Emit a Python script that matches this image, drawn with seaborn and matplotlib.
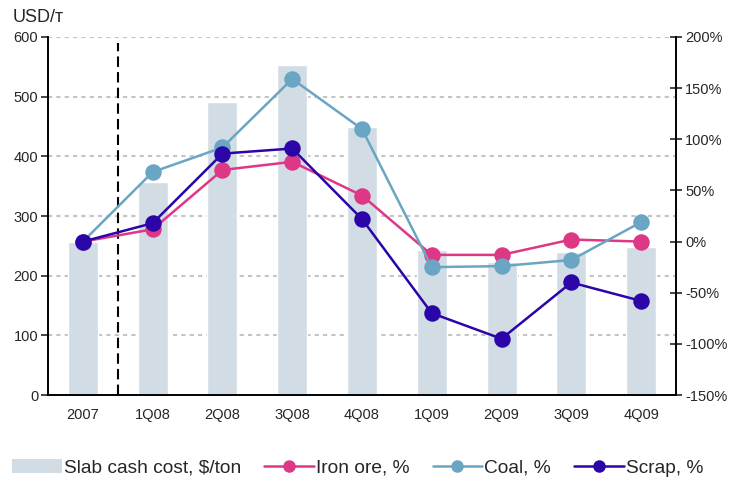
import numpy as np
import pandas as pd
import matplotlib
matplotlib.use("Agg")
import matplotlib.pyplot as plt
import seaborn as sns
from matplotlib.patches import Patch
from matplotlib.lines import Line2D

quarters = ["2007", "1Q08", "2Q08", "3Q08", "4Q08", "1Q09", "2Q09", "3Q09", "4Q09"]
slab_cost = [256, 357, 491, 553, 450, 243, 223, 240, 248]
iron_ore = [0, 12, 70, 78, 45, -13, -13, 2, 0]
coal = [0, 68, 92, 159, 110, -25, -24, -18, 19]
scrap = [0, 18, 86, 91, 22, -70, -95, -40, -58]

BAR_COLOR = "#D1DCE5"
IRON_COLOR = "#DE3785"
COAL_COLOR = "#6AA5C4"
SCRAP_COLOR = "#2B05A8"

sns.set_style("white")
plt.rcParams["font.family"] = ["Liberation Sans", "DejaVu Sans"]

df = pd.DataFrame({
    "quarter": quarters,
    "slab": slab_cost,
    "iron": iron_ore,
    "coal": coal,
    "scrap": scrap,
})

fig = plt.figure(figsize=(7.3, 4.78), dpi=100)
ax = fig.add_axes([0.0658, 0.1736, 0.8602, 0.749])

sns.barplot(data=df, x="quarter", y="slab", color=BAR_COLOR, width=0.43,
            saturation=1, ax=ax, zorder=2)
ax.set_ylim(0, 600)
ax.set_xlim(-0.5, 8.5)
ax.set_yticks(range(0, 601, 100))
ax.yaxis.grid(True, linestyle=(0, (2, 2)), color="#C4C4C4", linewidth=1.5)
ax.set_axisbelow(True)
ax.set_xlabel("")
ax.set_ylabel("")

# dashed separator between 2007 and quarterly data
ax.vlines(0.5, 0, 590, colors="black", linestyles=(0, (5, 2.5)), linewidth=1.5, zorder=3)

ax2 = ax.twinx()
for col, color in [("iron", IRON_COLOR), ("coal", COAL_COLOR), ("scrap", SCRAP_COLOR)]:
    sns.pointplot(data=df, x="quarter", y=col, color=color, markers="o",
                  markersize=10.5, linewidth=1.8, ax=ax2)
ax2.set_ylim(-150, 200)
ax2.set_xlim(-0.5, 8.5)
ax2.set_yticks(range(-150, 201, 50))
ax2.set_yticklabels([f"{v}%" for v in range(-150, 201, 50)])
ax2.set_ylabel("")
ax2.set_xlabel("")
ax2.grid(False)

for a in (ax, ax2):
    a.spines["top"].set_visible(False)
    for s in ("left", "right", "bottom"):
        a.spines[s].set_color("black")
        a.spines[s].set_linewidth(1.2)

ax.tick_params(axis="y", direction="out", length=5, width=1.2, labelsize=10.5, pad=2)
ax2.tick_params(axis="y", direction="inout", length=9, width=1.2, labelsize=10.5, pad=2)
ax.set_xticks(np.arange(-0.5, 9, 1), minor=True)
ax.tick_params(axis="x", which="major", length=0, labelsize=10.5, pad=9)
ax.tick_params(axis="x", which="minor", direction="out", length=5, width=1.2)
ax2.tick_params(axis="x", which="both", length=0)

fig.text(0.017, 0.955, "USD/т", fontsize=13)

handles = [
    Patch(facecolor=BAR_COLOR, edgecolor="none"),
    Line2D([], [], color=IRON_COLOR, marker="o", markersize=8, linewidth=1.8),
    Line2D([], [], color=COAL_COLOR, marker="o", markersize=8, linewidth=1.8),
    Line2D([], [], color=SCRAP_COLOR, marker="o", markersize=8, linewidth=1.8),
]
labels = ["Slab cash cost, $/ton", "Iron ore, %", "Coal, %", "Scrap, %"]
fig.legend(handles, labels, loc="lower center", bbox_to_anchor=(0.49, -0.033),
           ncol=4, frameon=False, fontsize=13.8, handlelength=2.6,
           handletextpad=0.1, columnspacing=1.2)

fig.savefig("out.png", dpi=100)
